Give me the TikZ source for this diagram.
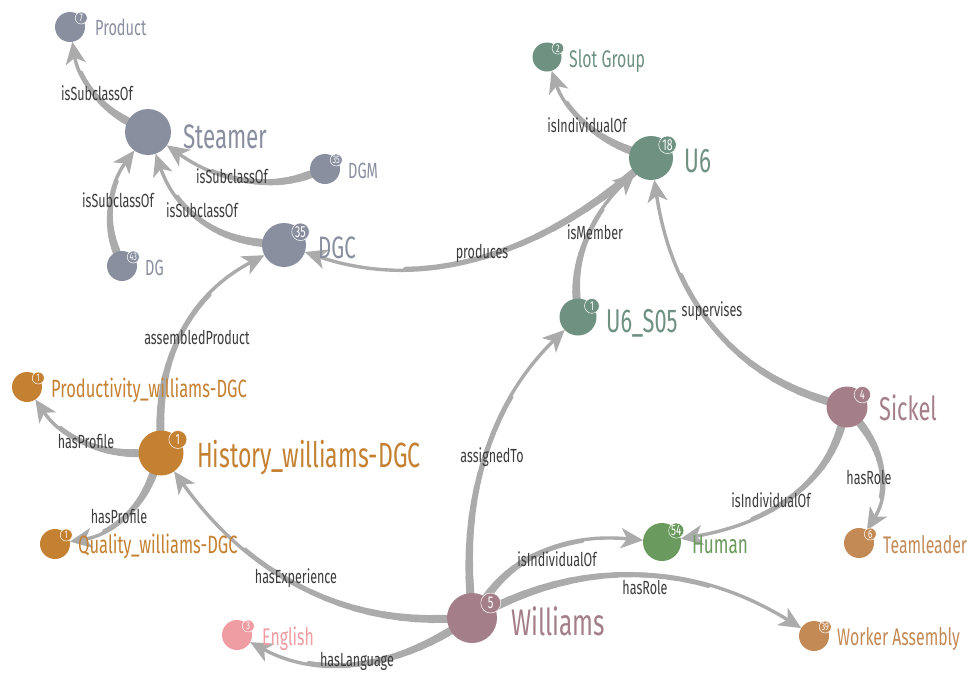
\documentclass[tikz,border=0pt]{standalone}
\usepackage{fontspec}
\usetikzlibrary{arrows.meta,calc}
\newfontfamily\condfont[FakeStretch=0.66]{Fira Sans}
\newcommand\fsz[1]{\fontsize{#1}{#1}\selectfont}

\definecolor{cgrey}{HTML}{8A8FA0}
\definecolor{cteal}{HTML}{6E9182}
\definecolor{cmauve}{HTML}{A47F89}
\definecolor{corange}{HTML}{C58132}
\definecolor{ctan}{HTML}{C48A55}
\definecolor{cgreen}{HTML}{6A9A5D}
\definecolor{cpink}{HTML}{EF9CA2}
\definecolor{edgegrey}{HTML}{ABABAB}
\definecolor{labelgrey}{HTML}{3C3C3C}

\pgfdeclarelayer{paper}
\pgfdeclarelayer{edges}
\pgfsetlayers{paper,edges,main}

\tikzset{
  vdisc/.style={circle, inner sep=0pt, outer sep=0pt},
  badge/.style={circle, inner sep=0pt, outer sep=0pt, text=white, draw=white, line width=0.5pt},
  vname/.style={anchor=base west, inner sep=0pt, font=\condfont\fsz{#1}},
  link/.style={draw=edgegrey, line width=3.4pt,
    -{Stealth[length=22pt,width=20pt,inset=6pt]}},
  taper/.style={draw=edgegrey, line cap=round},
  elabel/.style={font=\condfont\fsz{19}, text=labelgrey, inner sep=0pt},
}

% radius store for each vertex
\newcommand\vrad[1]{\csname vr@#1\endcsname}

% vertex: name, position, radius, colour, count, count font size
\newcommand\gvertex[6]{%
  \expandafter\xdef\csname vr@#1\endcsname{#3}%
  \node[vdisc, minimum size={2*#3pt}, fill=#4] (#1) at (#2) {};
  \node[badge, fill=#4, minimum size={0.8*#3pt}, font=\condfont\fsz{#6}]
    (#1-n) at ($(#1)+({0.75*#3},{-0.6*#3})$) {#5};
}

% tapered link (quadratic curve): source, target, control point, label, label position, name
\newcommand\glink[6]{%
  \coordinate (#6-c) at (#3);
  \path ($(#1)!\vrad{#1}pt!(#6-c)$) coordinate (#6-s)
        ($(#2)!\vrad{#2}pt!(#6-c)$) coordinate (#6-e);
  \begin{pgfonlayer}{edges}
    \draw[link] (#6-s) .. controls ($(#6-s)!2/3!(#6-c)$) and ($(#6-e)!2/3!(#6-c)$) .. (#6-e);
    \foreach \k in {0,...,13}{%
      \pgfmathsetmacro\ta{\k/20}%
      \pgfmathsetmacro\tb{(\k+1)/20}%
      \pgfmathsetmacro\wd{8-0.34*\k}%
      \draw[taper, line width=\wd pt]
        ($ {(1-\ta)^2}*(#6-s) + {2*\ta*(1-\ta)}*(#6-c) + {\ta^2}*(#6-e) $) --
        ($ {(1-\tb)^2}*(#6-s) + {2*\tb*(1-\tb)}*(#6-c) + {\tb^2}*(#6-e) $);
    }
  \end{pgfonlayer}
  \node[elabel] (#6) at (#5) {#4};
}

\begin{document}
\begin{tikzpicture}[x=1pt, y=-1pt]
\begin{pgfonlayer}{paper}
  \fill[white] (0,0) rectangle (976,675);
\end{pgfonlayer}
\useasboundingbox (0,0) rectangle (976,675);
\clip (0,0) rectangle (976,675);

% vertices
\gvertex{product}{70,27}{15}{cgrey}{7}{11}
\expandafter\xdef\csname vr@steamer\endcsname{23}
\node[vdisc, minimum size=46pt, fill=cgrey] (steamer) at (148,132) {};
\gvertex{dgm}{325,169}{15}{cgrey}{35}{11}
\gvertex{dg}{122,266}{15}{cgrey}{43}{11}
\gvertex{dgc}{284,245}{22}{cgrey}{35}{16}
\gvertex{slot}{547,57}{14.5}{cteal}{2}{11}
\gvertex{u6}{651,158}{22}{cteal}{18}{16}
\gvertex{u6s}{578,317}{18.5}{cteal}{1}{13}
\gvertex{sickel}{847,407}{20.5}{cmauve}{4}{14}
\gvertex{teamleader}{859,543}{15}{ctan}{6}{12}
\gvertex{human}{662,542}{19}{cgreen}{54}{15}
\gvertex{williams}{472,618}{25}{cmauve}{5}{17}
\gvertex{worker}{814,636}{15}{ctan}{39}{11}
\gvertex{english}{237,635}{15}{cpink}{3}{11}
\gvertex{history}{161,453}{22.5}{corange}{1}{15}
\gvertex{productivity}{27,387}{15}{corange}{1}{11}
\gvertex{quality}{55,544}{15}{corange}{1}{11}

% vertex names
\node[vname=22, text=cgrey] (product-t) at (95,35) {Product};
\node[vname=34, text=cgrey] (steamer-t) at (183,148) {Steamer};
\node[vname=22, text=cgrey] (dgm-t) at (348,178) {DGM};
\node[vname=22, text=cgrey] (dg-t) at (145,275) {DG};
\node[vname=31, text=cgrey] (dgc-t) at (318,258) {DGC};
\node[vname=24, text=cteal] (slot-t) at (569,67) {Slot Group};
\node[vname=34, text=cteal] (u6-t) at (684,172) {U6};
\node[vname=33, text=cteal] (u6s-t) at (606,332) {U6\_S05};
\node[vname=33, text=cmauve] (sickel-t) at (879,420) {Sickel};
\node[vname=26, text=cgreen] (human-t) at (692,553) {Human};
\node[vname=24, text=ctan] (teamleader-t) at (883,553) {Teamleader};
\node[vname=37, text=cmauve] (williams-t) at (511,635) {Williams};
\node[vname=24, text=ctan] (worker-t) at (837,645) {Worker Assembly};
\node[vname=24, text=cpink] (english-t) at (262,645) {English};
\node[vname=35, text=corange] (history-t) at (197,467) {History\_williams-DGC};
\node[vname=25, text=corange] (productivity-t) at (51,397) {Productivity\_williams-DGC};
\node[vname=25, text=corange] (quality-t) at (78,553) {Quality\_williams-DGC};

% links
\glink{steamer}{product}{81,96.5}{isSubclassOf}{97,93}{e1}
\glink{dgm}{steamer}{243.5,199.5}{isSubclassOf}{232,176}{e2}
\glink{dg}{steamer}{97,201}{isSubclassOf}{118,200}{e3}
\glink{dgc}{steamer}{184,235.5}{isSubclassOf}{202,210}{e4}
\glink{u6}{dgc}{472.5,308.5}{produces}{482,253}{e5}
\glink{u6}{slot}{571,128.5}{isIndividualOf}{587,125}{e6}
\glink{u6s}{u6}{571.5,232.5}{isMember}{595,232}{e7}
\glink{sickel}{u6}{681,357.5}{supervises}{712,311}{e8}
\glink{sickel}{human}{815.5,515.5}{isIndividualOf}{771,500}{e9}
\glink{sickel}{teamleader}{901,475}{hasRole}{869,477}{e10}
\glink{williams}{human}{533,530}{isIndividualOf}{557,559}{e11}
\glink{williams}{worker}{647,533}{hasRole}{645,587}{e12}
\glink{williams}{u6s}{459,432.5}{assignedTo}{492,457}{e13}
\glink{williams}{history}{283.5,624.5}{hasExperience}{296,578}{e14}
\glink{williams}{english}{345.5,693.5}{hasLanguage}{357,661}{e15}
\glink{history}{dgc}{157.5,311}{assembledProduct}{197,337}{e16}
\glink{history}{productivity}{72,454}{hasProfile}{86,441}{e17}
\glink{history}{quality}{132,531.5}{hasProfile}{119,516}{e18}
\end{tikzpicture}
\end{document}
